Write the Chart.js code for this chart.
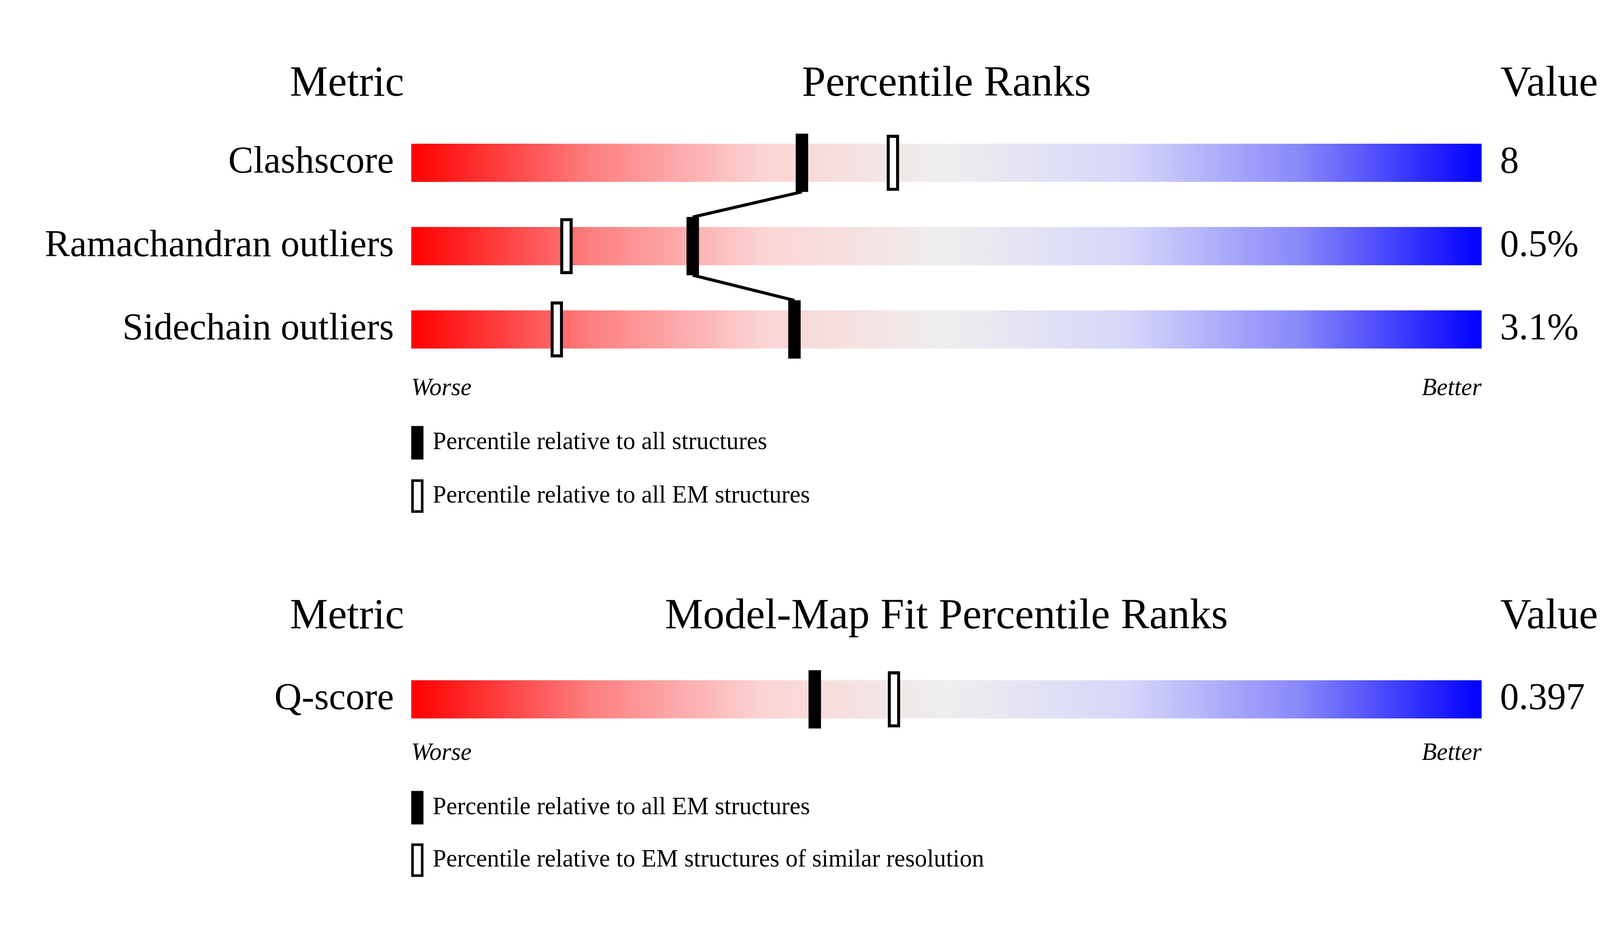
<!DOCTYPE html>
<html><head><meta charset="utf-8">
<script src="https://cdn.jsdelivr.net/npm/chart.js@4/dist/chart.umd.min.js"></script>
<style>html,body{margin:0;padding:0;background:#fff;overflow:hidden}#wrap{position:fixed;left:0;top:0;width:100vw;height:100vh}</style>
</head><body><div id="wrap"><canvas id="c"></canvas></div>
<script>
// ---- data ----
const metrics = ["Clashscore", "Ramachandran outliers", "Sidechain outliers"];
const metricValues = ["8", "0.5%", "3.1%"];
const pctAll = [36.5, 26.3, 35.8];
const pctEM = [45.0, 14.5, 13.6];
const fitMetrics = ["Q-score"];
const fitValues = ["0.397"];
const fitPctEM = [37.7];
const fitPctRes = [45.1];
const legend1 = ["Percentile relative to all structures", "Percentile relative to all EM structures"];
const legend2 = ["Percentile relative to all EM structures", "Percentile relative to EM structures of similar resolution"];
const titles1 = ["Metric", "Percentile Ranks", "Value"];
const titles2 = ["Metric", "Model-Map Fit Percentile Ranks", "Value"];

// ---- layout (row positions) ----
const rows1 = [0, 1, 2];
const rows2 = [6.44];
const FONT = '"Liberation Serif", "DejaVu Serif", serif';
const HALF = 0.57;
let S = 2.86;

const allRows = rows1.concat(rows2);
function gradient(ctx){
  const ca = ctx.chart.chartArea; if(!ca) return '#f00';
  const g = ctx.chart.ctx.createLinearGradient(ca.left,0,ca.right,0);
  g.addColorStop(0,'#ff0000');
  g.addColorStop(0.17,'#fc8080');
  g.addColorStop(0.33,'#fcd4d4');
  g.addColorStop(0.5,'#eeeeee');
  g.addColorStop(0.67,'#d6d6fa');
  g.addColorStop(0.83,'#8888fa');
  g.addColorStop(1,'#0000ff');
  return g;
}
const filled = pctAll.map((p,i)=>({x:[p-HALF,p+HALF],y:rows1[i]})).concat(fitPctEM.map((p,i)=>({x:[p-HALF,p+HALF],y:rows2[i]})));
const open = pctEM.map((p,i)=>({x:[p-HALF,p+HALF],y:rows1[i]})).concat(fitPctRes.map((p,i)=>({x:[p-HALF,p+HALF],y:rows2[i]})));

const sizePlugin = {
  id:'size',
  beforeUpdate(chart){
    S = chart.width/1568;
    const Sy = chart.height/840;
    chart.options.layout.padding = {left:403*S, right:(1568-1452)*S, top:0, bottom:0};
    const ds = chart.data.datasets;
    ds[0].barThickness = 34*Sy;
    ds[1].barThickness = 50*Sy; ds[1].borderWidth = 3*S;
    ds[2].barThickness = 52*Sy;
  }
};

const textPlugin = {
  id:'txt',
  beforeDatasetsDraw(chart){
    const {ctx, scales:{x,y}} = chart;
    const Sy = chart.height/840;
    ctx.save();
    ctx.strokeStyle='#000'; ctx.lineWidth=3*S;
    const mh = 26*Sy;
    for(let i=0;i<pctAll.length-1;i++){
      ctx.beginPath();
      ctx.moveTo(x.getPixelForValue(pctAll[i]), y.getPixelForValue(rows1[i])+mh);
      ctx.lineTo(x.getPixelForValue(pctAll[i+1]), y.getPixelForValue(rows1[i+1])-mh);
      ctx.stroke();
    }
    ctx.restore();
  },
  afterDraw(chart){
    const {ctx, chartArea:ca, scales:{x,y}} = chart;
    const Sy = chart.height/840;
    ctx.save();
    ctx.fillStyle='#000'; ctx.textBaseline='middle';
    const W = chart.width;
    function titles(t,row){
      const py=y.getPixelForValue(row);
      ctx.font = `${42*S}px ${FONT}`;
      ctx.textAlign='center'; ctx.fillText(t[0], ca.left-63*S, py);
      ctx.fillText(t[1], (ca.left+ca.right)/2, py);
      ctx.textAlign='right'; ctx.fillText(t[2], W-2*S, py);
    }
    function labels(names, vals, rows){
      ctx.font = `${37*S}px ${FONT}`;
      names.forEach((n,i)=>{
        const py=y.getPixelForValue(rows[i]);
        ctx.textAlign='right'; ctx.fillText(n, ca.left-17*S, py);
        ctx.textAlign='left'; ctx.fillText(vals[i], ca.right+18*S, py);
      });
    }
    function wb(row){
      const py=y.getPixelForValue(row);
      ctx.font = `italic ${24*S}px ${FONT}`;
      ctx.textAlign='left'; ctx.fillText('Worse', ca.left, py);
      ctx.textAlign='right'; ctx.fillText('Better', ca.right, py);
    }
    function leg(items, r1, r2){
      [r1,r2].forEach((row,i)=>{
        const py=y.getPixelForValue(row);
        const w=12*S, h=30*Sy;
        if(i===0){ ctx.fillStyle='#000'; ctx.fillRect(ca.left, py-h/2, w, h); }
        else { ctx.strokeStyle='#000'; ctx.lineWidth=2.5*S; ctx.strokeRect(ca.left+1.25*S, py-h/2+1.25*S, w-2.5*S, h-2.5*S); }
        ctx.fillStyle='#000';
        ctx.font = `${24*S}px ${FONT}`;
        ctx.textAlign='left'; ctx.fillText(items[i], ca.left+21*S, py);
      });
    }
    titles(titles1,-0.94); titles(titles2,5.45);
    labels(metrics, metricValues, rows1); labels(fitMetrics, fitValues, rows2);
    wb(2.71); wb(7.09);
    leg(legend1, 3.36, 4.0); leg(legend2, 7.74, 8.37);
    ctx.restore();
  }
};

new Chart(document.getElementById('c'), {
  type:'bar',
  data:{datasets:[
    {data: allRows.map(r=>({x:[0,100],y:r})), backgroundColor: gradient, borderWidth:0, order:3},
    {data: open, backgroundColor:'#ffffff', borderColor:'#000', borderSkipped:false, order:2},
    {data: filled, backgroundColor:'#000', borderWidth:0, order:1}
  ]},
  options:{
    indexAxis:'y', responsive:true, maintainAspectRatio:false, animation:false,
    layout:{padding:0},
    plugins:{legend:{display:false}, tooltip:{enabled:false}},
    scales:{
      x:{type:'linear', min:0, max:100, display:false},
      y:{type:'linear', min:-1.15, max:8.5, reverse:true, display:false}
    },
    datasets:{bar:{grouped:false}}
  },
  plugins:[sizePlugin, textPlugin]
});
</script></body></html>
